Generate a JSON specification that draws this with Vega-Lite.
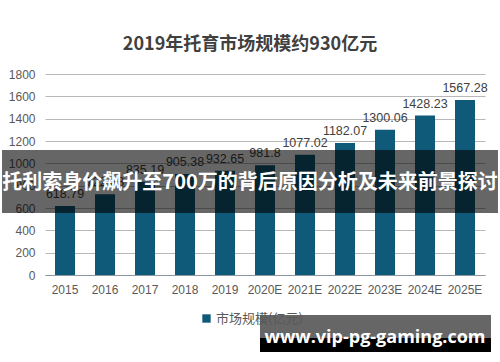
{
  "$schema": "https://vega.github.io/schema/vega-lite/v6.json",
  "width": 440,
  "height": 201,
  "autosize": "none",
  "padding": {"left": 45, "top": 74, "right": 15, "bottom": 87},
  "background": "white",
  "title": {
    "text": "2019年托育市场规模约930亿元",
    "font": "Noto Sans CJK SC",
    "fontSize": 18,
    "fontWeight": "bold",
    "color": "#404040",
    "anchor": "middle",
    "dx": -15,
    "offset": 14
  },
  "config": {
    "view": {"stroke": null},
    "font": "Liberation Sans"
  },
  "layer": [
    {
      "data": {
        "values": [
          {"year": "2015", "value": 618.79, "series": "市场规模(亿元)"},
          {"year": "2016", "value": 722.88, "series": "市场规模(亿元)"},
          {"year": "2017", "value": 835.19, "series": "市场规模(亿元)"},
          {"year": "2018", "value": 905.38, "series": "市场规模(亿元)"},
          {"year": "2019", "value": 932.65, "series": "市场规模(亿元)"},
          {"year": "2020E", "value": 981.8, "series": "市场规模(亿元)"},
          {"year": "2021E", "value": 1077.02, "series": "市场规模(亿元)"},
          {"year": "2022E", "value": 1182.07, "series": "市场规模(亿元)"},
          {"year": "2023E", "value": 1300.06, "series": "市场规模(亿元)"},
          {"year": "2024E", "value": 1428.23, "series": "市场规模(亿元)"},
          {"year": "2025E", "value": 1567.28, "series": "市场规模(亿元)"}
        ]
      },
      "encoding": {
        "x": {
          "field": "year",
          "type": "nominal",
          "sort": null,
          "scale": {"paddingInner": 0.5, "paddingOuter": 0.25},
          "axis": {
            "title": null,
            "labelAngle": 0,
            "labelFontSize": 12,
            "labelColor": "#595959",
            "labelPadding": 9,
            "ticks": false,
            "domainColor": "#8c9aa0",
            "domainWidth": 1
          }
        },
        "y": {
          "field": "value",
          "type": "quantitative",
          "scale": {"domain": [0, 1800], "nice": false},
          "axis": {
            "title": null,
            "values": [0, 200, 400, 600, 800, 1000, 1200, 1400, 1600, 1800],
            "format": "d",
            "labelFontSize": 12,
            "labelColor": "#595959",
            "labelPadding": 10,
            "ticks": false,
            "domain": false,
            "gridColor": "#b8b8b8",
            "gridWidth": 1
          }
        }
      },
      "layer": [
        {
          "mark": {"type": "bar"},
          "encoding": {
            "color": {
              "field": "series",
              "type": "nominal",
              "scale": {"range": ["#0f5a78"]},
              "legend": {
                "title": null,
                "orient": "none",
                "legendX": 155,
                "legendY": 238,
                "symbolType": "square",
                "symbolSize": 70,
                "labelFont": "Noto Sans CJK SC",
                "labelFontSize": 13,
                "labelColor": "#595959",
                "labelOffset": 3
              }
            }
          }
        },
        {
          "mark": {"type": "text", "baseline": "bottom", "dy": -5, "fontSize": 12.5, "color": "#404040"},
          "encoding": {"text": {"field": "value", "type": "quantitative", "format": ""}}
        }
      ]
    },
    {
      "data": {"values": [
        {"x": -9.77, "x2": 102.95, "y": 1119, "y2": 555, "c": "a"},
        {"x": 48.86, "x2": 101.36, "y": -358, "y2": -564, "c": "a"},
        {"x": 48.86, "x2": 101.36, "y": -564, "y2": -690, "c": "b"}
      ]},
      "mark": {"type": "rect", "clip": false},
      "encoding": {
        "x": {"field": "x", "type": "quantitative", "scale": {"domain": [0, 100], "nice": false, "zero": false}, "axis": null},
        "x2": {"field": "x2"},
        "y": {"field": "y", "type": "quantitative", "scale": {"domain": [0, 1800], "nice": false}, "axis": null},
        "y2": {"field": "y2"},
        "fill": {"field": "c", "type": "nominal", "scale": {"domain": ["a", "b"], "range": ["#000000", "#000000"]}, "legend": null},
        "opacity": {"field": "c", "type": "nominal", "scale": {"domain": ["a", "b"], "range": [0.6, 1]}, "legend": null}
      }
    },
    {
      "data": {"values": [
        {"x": 46.6, "y": 824, "t": "托利索身价飙升至700万的背后原因分析及未来前景探讨", "k": "banner"}
      ]},
      "mark": {"type": "text", "font": "Noto Sans CJK SC", "fontWeight": "bold", "fontSize": 20, "color": "white", "align": "center", "baseline": "middle", "clip": false},
      "encoding": {
        "x": {"field": "x", "type": "quantitative", "scale": {"domain": [0, 100], "nice": false, "zero": false}, "axis": null},
        "y": {"field": "y", "type": "quantitative", "scale": {"domain": [0, 1800], "nice": false}, "axis": null},
        "text": {"field": "t"}
      }
    },
    {
      "data": {"values": [
        {"x": 75, "y": -609, "t": "www.vip-pg-gaming.com"}
      ]},
      "mark": {"type": "text", "font": "Open Sans", "fontWeight": "bold", "fontSize": 18, "color": "white", "align": "center", "baseline": "alphabetic", "clip": false},
      "encoding": {
        "x": {"field": "x", "type": "quantitative", "scale": {"domain": [0, 100], "nice": false, "zero": false}, "axis": null},
        "y": {"field": "y", "type": "quantitative", "scale": {"domain": [0, 1800], "nice": false}, "axis": null},
        "text": {"field": "t"}
      }
    }
  ],
  "resolve": {
    "scale": {"x": "independent", "y": "independent", "fill": "independent", "opacity": "independent", "color": "independent"},
    "axis": {"x": "independent", "y": "independent"}
  }
}
